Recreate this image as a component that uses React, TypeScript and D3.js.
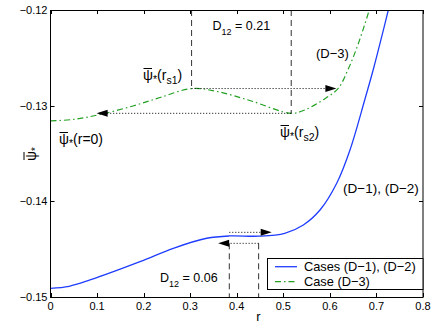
import React from 'react';
import * as d3 from 'd3';

// Cases (D-1), (D-2): solid blue curve
const blueR = [0, 0.04, 0.0848, 0.1922, 0.2637, 0.3355, 0.384, 0.4472, 0.503, 0.543, 0.5788, 0.6147, 0.6432, 0.6748, 0.6948, 0.7131, 0.7255];
const blueV = [-0.14909, -0.14888, -0.14822, -0.14631, -0.14491, -0.14386, -0.14362, -0.14364, -0.14334, -0.14247, -0.14091, -0.13811, -0.13463, -0.12941, -0.12593, -0.12244, -0.12];

// Case (D-3): green dash-dot curve
const greenR = [0, 0.0526, 0.1063, 0.1772, 0.2352, 0.3033, 0.3597, 0.4313, 0.5172, 0.546, 0.5831, 0.6175, 0.639, 0.6604, 0.6847];
const greenV = [-0.1316, -0.13142, -0.13092, -0.13003, -0.12915, -0.12821, -0.12854, -0.12951, -0.1308, -0.13045, -0.12946, -0.12821, -0.12622, -0.12361, -0.12];

// r_s1, r_s2 and psi levels for the D12 markers
const greenMarks = { rs1: 0.303, rs2: 0.517, psi1: -0.12821, psi2: -0.1308, arrowTo1: 0.614, arrowTo2: 0.099 };
const blueMarks = { rs1: 0.384, rs2: 0.447, yUp: -0.14324, yDown: -0.14439, arrowTo1: 0.475, arrowTo2: 0.36 };

const xTicks = [0, 0.1, 0.2, 0.3, 0.4, 0.5, 0.6, 0.7, 0.8];
const yTicks = [-0.15, -0.14, -0.13, -0.12];

const FONT = '"Liberation Sans", Arial, Helvetica, sans-serif';
const BLUE = '#1f3dff';
const GREEN = '#22a022';

const left = 50.5, right = 423, top = 10, bottom = 297;

const x = d3.scaleLinear().domain([0, 0.8]).range([left, right]);
const y = d3.scaleLinear().domain([-0.15, -0.12]).range([bottom, top]);

const makePath = (rs: number[], vs: number[]) =>
  d3.line<number>()
    .x((r) => x(r))
    .y((_, i) => y(vs[i]))
    .curve(d3.curveCatmullRom.alpha(0.5))(rs) || '';

// arrowhead pointing left (dir=-1) or right (dir=1), tip at (tx, ty)
const arrow = (tx: number, ty: number, dir: number) => {
  const len = 11, hw = 3.5;
  return `M${tx},${ty}L${tx - dir * len},${ty - hw}L${tx - dir * len},${ty + hw}Z`;
};

// psi with overbar and * subscript followed by text
const Psi = ({ px, py, sub, rest, size = 14 }: { px: number; py: number; sub?: string; rest: string; size?: number }) => (
  <g fontFamily={FONT} fontSize={size}>
    <line x1={px + 0.5} x2={px + 9} y1={py - 11.5} y2={py - 11.5} stroke="#000" strokeWidth={1} />
    <text x={px} y={py}>
      ψ<tspan fontSize={size * 0.75} dy={3}>*</tspan>
      <tspan dy={-3}>{rest}</tspan>
      {sub && <tspan fontSize={size * 0.75} dy={4}>{sub}</tspan>}
      {sub && <tspan dy={-4}>)</tspan>}
    </text>
  </g>
);

const D12 = ({ px, py, val }: { px: number; py: number; val: string }) => (
  <text x={px} y={py} fontFamily={FONT} fontSize={12.5}>
    D<tspan fontSize={9} dy={5}>12</tspan>
    <tspan dy={-5}>{' = ' + val}</tspan>
  </text>
);

export default function App() {
  const dotted = { stroke: '#000', strokeWidth: 1, strokeDasharray: '1,2', fill: 'none' };
  const dashed = { stroke: '#333', strokeWidth: 1, strokeDasharray: '6,4', fill: 'none' };
  const gm = greenMarks, bm = blueMarks;
  return (
    <svg width={436} height={327} style={{ position: 'absolute', left: 0, top: 0, background: '#fff' }}>
      <rect width={436} height={327} fill="#fff" />
      <defs>
        <clipPath id="plot"><rect x={left} y={top} width={right - left} height={bottom - top} /></clipPath>
      </defs>

      {/* ticks */}
      {xTicks.map((t) => (
        <g key={'x' + t}>
          <line x1={Math.round(x(t)) + 0.5} x2={Math.round(x(t)) + 0.5} y1={bottom} y2={bottom - 4} stroke="#000" />
          <line x1={Math.round(x(t)) + 0.5} x2={Math.round(x(t)) + 0.5} y1={top} y2={top + 4} stroke="#000" />
          <text x={x(t)} y={310} textAnchor="middle" fontFamily={FONT} fontSize={11}>
            {t === 0 ? '0' : t.toFixed(1)}
          </text>
        </g>
      ))}
      {yTicks.map((t) => (
        <g key={'y' + t}>
          <line x1={left} x2={left + 4} y1={Math.round(y(t)) + 0.5} y2={Math.round(y(t)) + 0.5} stroke="#000" />
          <line x1={right} x2={right - 4} y1={Math.round(y(t)) + 0.5} y2={Math.round(y(t)) + 0.5} stroke="#000" />
          <text x={47.5} y={y(t) + 4} textAnchor="end" fontFamily={FONT} fontSize={11}>
            {'\u2212' + Math.abs(t).toFixed(2)}
          </text>
        </g>
      ))}

      {/* curves */}
      <g clipPath="url(#plot)">
        <path d={makePath(blueR, blueV)} stroke={BLUE} strokeWidth={1.3} fill="none" />
        <path d={makePath(greenR, greenV)} stroke={GREEN} strokeWidth={1.2} fill="none" strokeDasharray="6,3,1.5,3" />
      </g>

      {/* D-3 markers */}
      <line x1={x(gm.rs1)} x2={x(gm.rs1)} y1={top} y2={y(gm.psi1)} {...dashed} />
      <line x1={x(gm.rs2)} x2={x(gm.rs2)} y1={top} y2={y(gm.psi2)} {...dashed} />
      <line x1={x(gm.rs1)} x2={x(gm.arrowTo1) - 10} y1={y(gm.psi1)} y2={y(gm.psi1)} {...dotted} />
      <path d={arrow(x(gm.arrowTo1), y(gm.psi1), 1)} fill="#000" />
      <line x1={x(gm.rs2)} x2={x(gm.arrowTo2) + 10} y1={y(gm.psi2)} y2={y(gm.psi2)} {...dotted} />
      <path d={arrow(x(gm.arrowTo2), y(gm.psi2), -1)} fill="#000" />

      {/* D-1, D-2 markers */}
      <line x1={x(bm.rs1)} x2={x(bm.rs1)} y1={y(bm.yDown)} y2={bottom} {...dashed} />
      <line x1={x(bm.rs2)} x2={x(bm.rs2)} y1={y(bm.yDown)} y2={bottom} {...dashed} />
      <line x1={x(bm.rs1)} x2={x(bm.arrowTo1) - 10} y1={y(bm.yUp)} y2={y(bm.yUp)} {...dotted} />
      <path d={arrow(x(bm.arrowTo1), y(bm.yUp), 1)} fill="#000" />
      <line x1={x(bm.rs2)} x2={x(bm.arrowTo2) + 8} y1={y(bm.yDown)} y2={y(bm.yDown)} {...dotted} />
      <path d={arrow(x(bm.arrowTo2), y(bm.yDown), -1)} fill="#000" />

      {/* annotations */}
      <D12 px={212.5} py={30} val="0.21" />
      <D12 px={160} py={282} val="0.06" />
      <Psi px={143} py={80} rest="(r" sub="s1" />
      <Psi px={59} py={144} rest="(r=0)" />
      <Psi px={280} py={137} rest="(r" sub="s2" />
      <text x={316} y={58} fontFamily={FONT} fontSize={13}>(D−3)</text>
      <text x={343} y={193} fontFamily={FONT} fontSize={13.5}>(D−1), (D−2)</text>

      {/* axes box */}
      <rect x={left} y={top + 0.5} width={right - left} height={bottom - top} fill="none" stroke="#000" strokeWidth={1} />

      {/* legend */}
      <rect x={267.5} y={258.5} width={right - 267.5} height={31} fill="#fff" stroke="#000" strokeWidth={1} />
      <line x1={275} x2={297} y1={266.7} y2={266.7} stroke={BLUE} strokeWidth={1.3} />
      <line x1={275} x2={297} y1={281.7} y2={281.7} stroke={GREEN} strokeWidth={1.2} strokeDasharray="6,3,1.5,3" />
      <text x={304} y={271} fontFamily={FONT} fontSize={12.8}>Cases (D−1), (D−2)</text>
      <text x={304} y={286} fontFamily={FONT} fontSize={12.8}>Case (D−3)</text>

      {/* axis labels */}
      <text x={258.5} y={321} textAnchor="middle" fontFamily={FONT} fontSize={13}>r</text>
      <g transform="translate(36,161) rotate(-90)" fontFamily={FONT} fontSize={14}>
        <line x1={1} x2={9} y1={-12} y2={-12} stroke="#000" />
        <text x={0} y={0}>ψ<tspan fontSize={10} dy={3}>*</tspan></text>
      </g>
    </svg>
  );
}
